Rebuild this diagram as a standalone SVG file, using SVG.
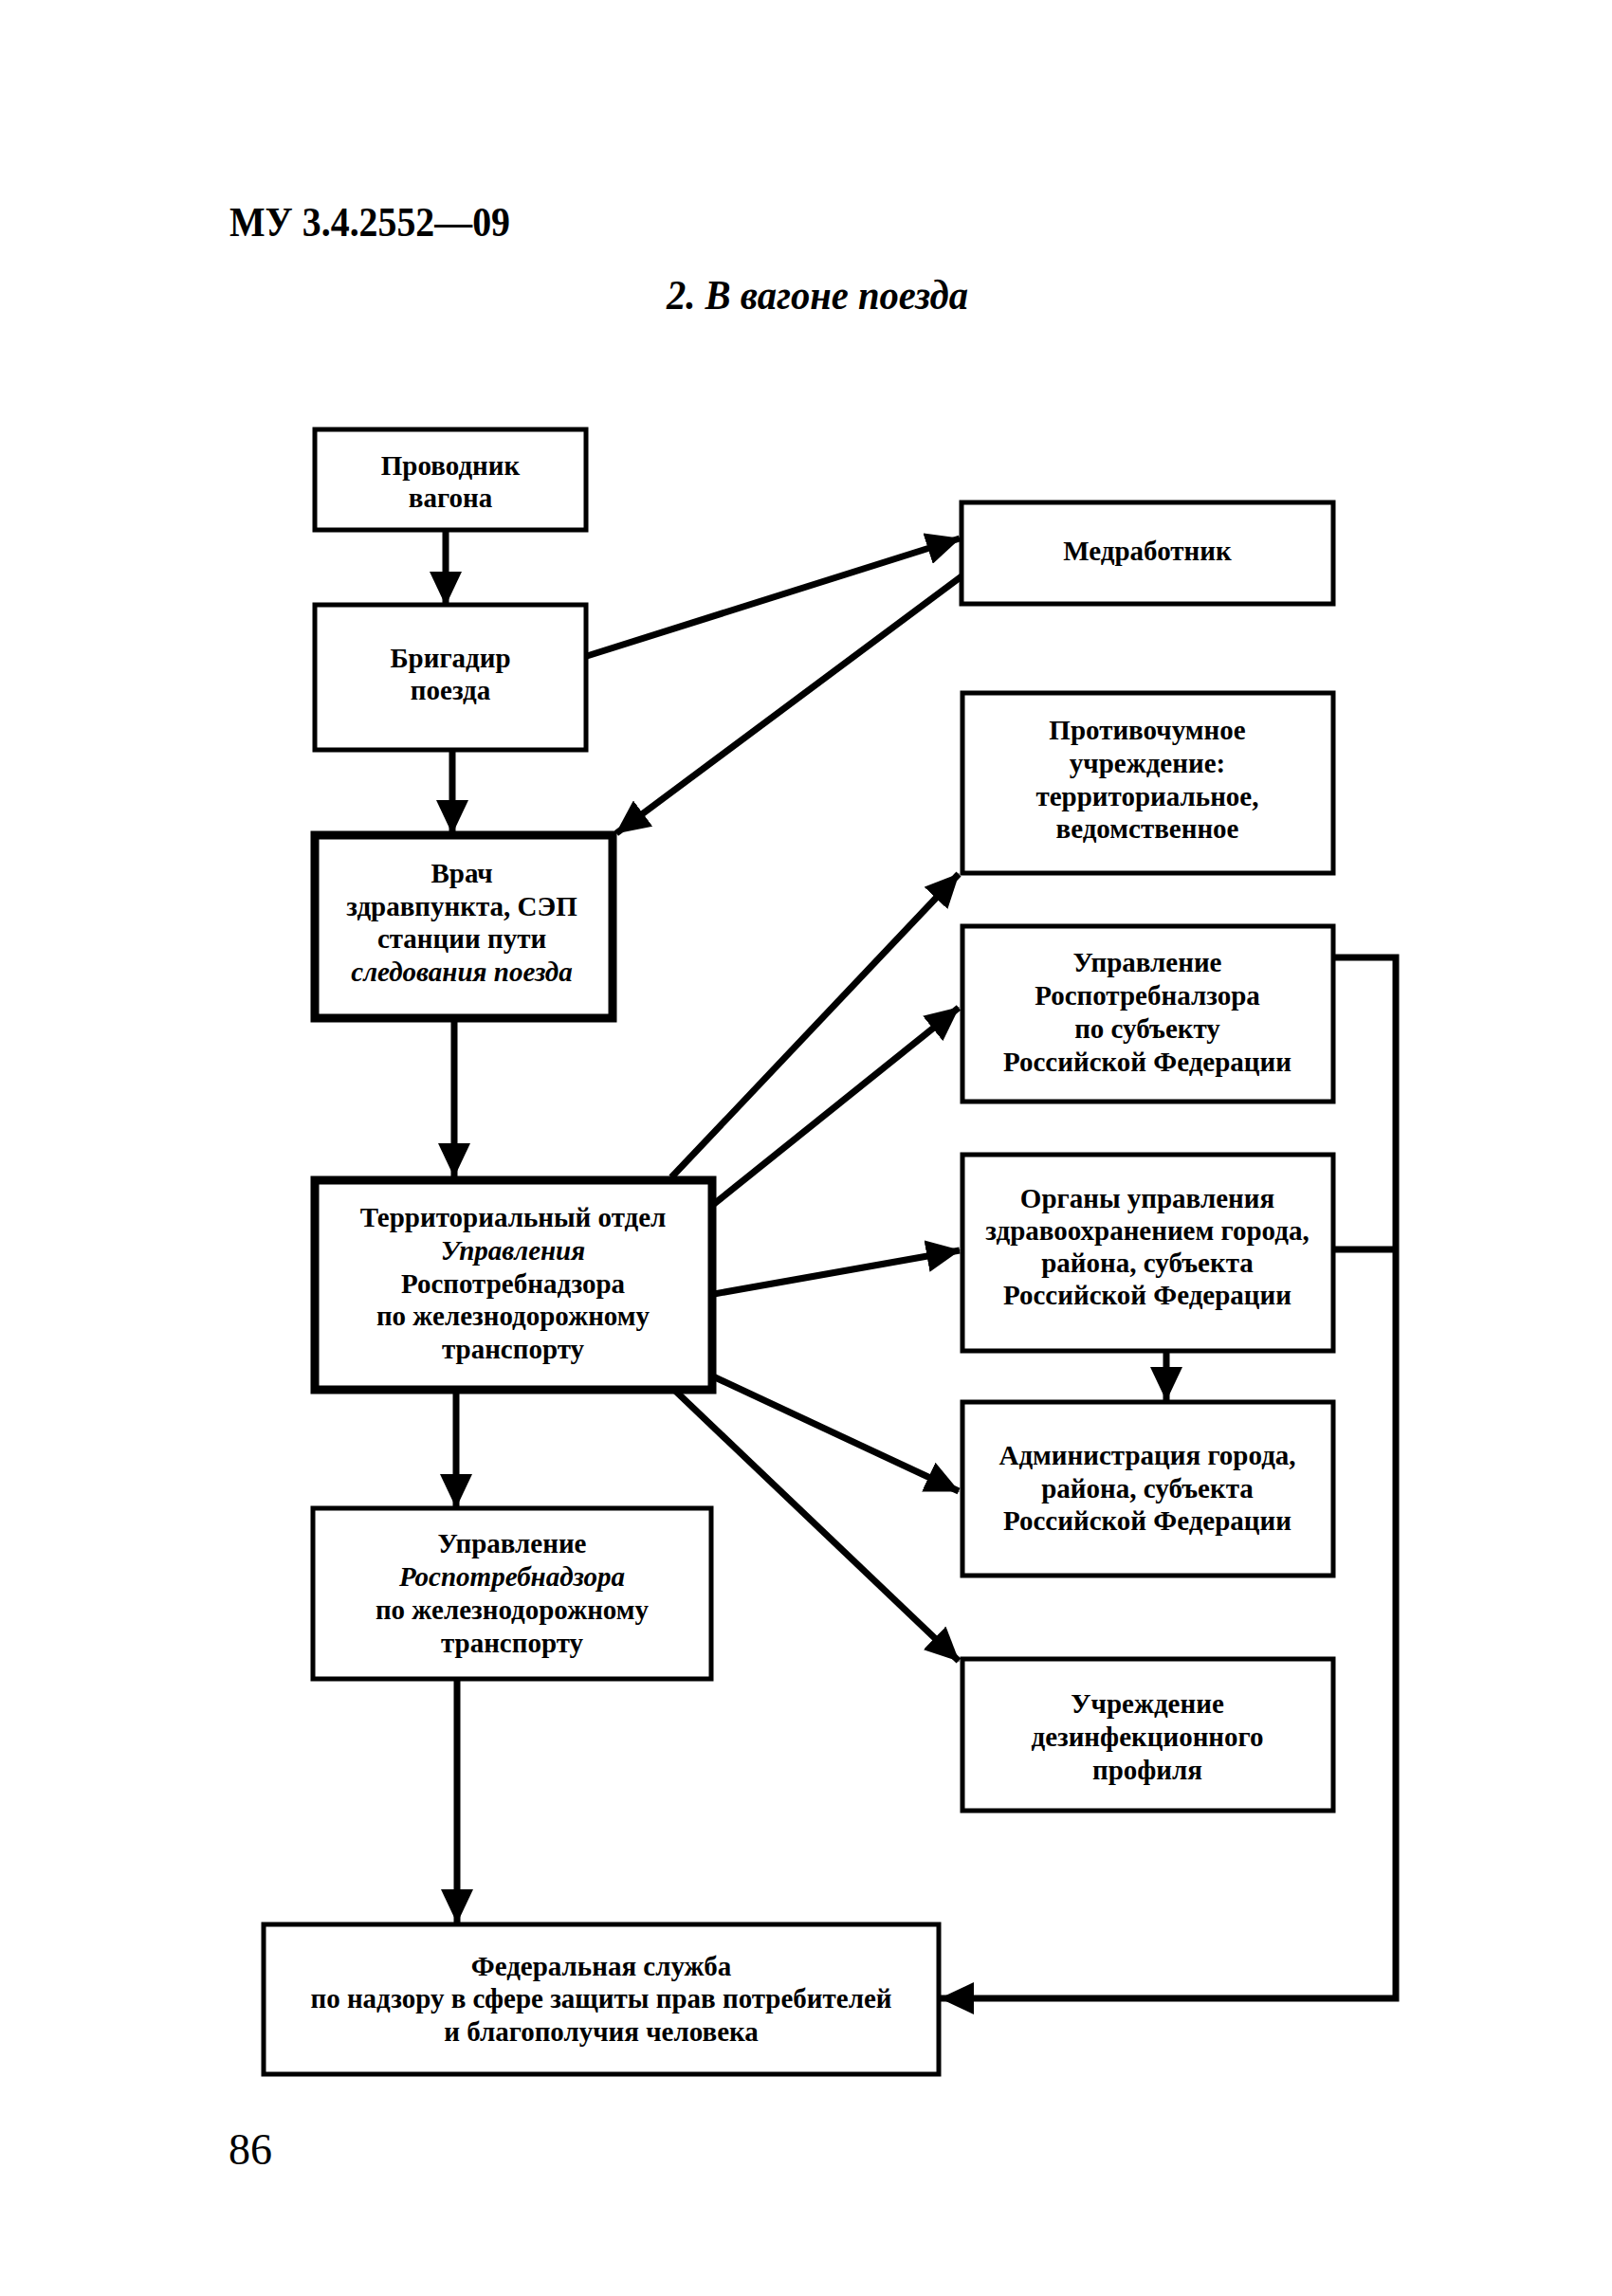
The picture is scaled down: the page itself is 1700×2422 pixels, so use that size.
<svg xmlns="http://www.w3.org/2000/svg" width="1700" height="2422" viewBox="0 0 1700 2422">
<style>
.box{fill:#fff;stroke:#000;stroke-width:5}
.thick{fill:#fff;stroke:#000;stroke-width:9}
.t{font-family:"Liberation Serif","Times New Roman",serif;font-size:29px;font-weight:bold;text-anchor:middle;fill:#000}
.i{font-style:italic}
.c{fill:none;stroke:#000;stroke-width:7;stroke-linecap:butt;stroke-linejoin:miter}
.hdr{font-family:"Liberation Serif","Times New Roman",serif;fill:#000}
</style>
<defs>
<marker id="ah" markerUnits="userSpaceOnUse" markerWidth="36" markerHeight="34" refX="35" refY="17" orient="auto" viewBox="0 0 36 34">
<path d="M0,0 L36,17 L0,34 z" fill="#000"/>
</marker>
</defs>
<rect width="1700" height="2422" fill="#fff"/>
<text class="hdr" x="242" y="249" font-size="44" font-weight="bold" textLength="296" lengthAdjust="spacingAndGlyphs">МУ 3.4.2552—09</text>
<text class="hdr" x="703" y="326" font-size="45" font-weight="bold" font-style="italic" textLength="318" lengthAdjust="spacingAndGlyphs">2. В вагоне поезда</text>
<text class="hdr" x="241" y="2283" font-size="46">86</text>

<g id="connectors">
<line class="c" x1="470" y1="560" x2="470" y2="638" marker-end="url(#ah)"/>
<line class="c" x1="619" y1="692" x2="1012" y2="568" marker-end="url(#ah)"/>
<line class="c" x1="1014" y1="608" x2="650" y2="879" marker-end="url(#ah)"/>
<line class="c" x1="477" y1="792" x2="477" y2="879" marker-end="url(#ah)"/>
<line class="c" x1="479" y1="1078" x2="479" y2="1241" marker-end="url(#ah)"/>
<line class="c" x1="708" y1="1242" x2="1011" y2="922" marker-end="url(#ah)"/>
<line class="c" x1="753" y1="1270" x2="1011" y2="1063" marker-end="url(#ah)"/>
<line class="c" x1="753" y1="1365" x2="1012" y2="1319" marker-end="url(#ah)"/>
<line class="c" x1="752" y1="1452" x2="1011" y2="1573" marker-end="url(#ah)"/>
<line class="c" x1="712" y1="1467" x2="1011" y2="1752" marker-end="url(#ah)"/>
<line class="c" x1="481" y1="1468" x2="481" y2="1590" marker-end="url(#ah)"/>
<line class="c" x1="1230" y1="1425" x2="1230" y2="1477" marker-end="url(#ah)"/>
<line class="c" x1="482" y1="1771" x2="482" y2="2028" marker-end="url(#ah)"/>
<polyline class="c" points="1407,1010 1472,1010 1472,2108 992,2108" marker-end="url(#ah)"/>
<line class="c" x1="1407" y1="1318" x2="1472" y2="1318"/>
</g>

<g id="n-provodnik">
<rect class="box" x="332" y="453" width="286" height="106"/>
<text class="t" x="475" y="501">Проводник</text>
<text class="t" x="475" y="535">вагона</text>
</g>
<g id="n-brigadir">
<rect class="box" x="332" y="638" width="286" height="153"/>
<text class="t" x="475" y="704">Бригадир</text>
<text class="t" x="475" y="738">поезда</text>
</g>
<g id="n-vrach">
<rect class="thick" x="332" y="881" width="314" height="193"/>
<text class="t" x="487" y="931">Врач</text>
<text class="t" x="487" y="966">здравпункта, СЭП</text>
<text class="t" x="487" y="1000">станции пути</text>
<text class="t i" x="487" y="1035">следования поезда</text>
</g>
<g id="n-medrabotnik">
<rect class="box" x="1014" y="530" width="392" height="107"/>
<text class="t" x="1210" y="591">Медработник</text>
</g>
<g id="n-protivochumnoe">
<rect class="box" x="1015" y="731" width="391" height="190"/>
<text class="t" x="1210" y="780">Противочумное</text>
<text class="t" x="1210" y="815">учреждение:</text>
<text class="t" x="1210" y="850">территориальное,</text>
<text class="t" x="1210" y="884">ведомственное</text>
</g>
<g id="n-upr-subekt">
<rect class="box" x="1015" y="977" width="391" height="185"/>
<text class="t" x="1210" y="1025">Управление</text>
<text class="t" x="1210" y="1060">Роспотребналзора</text>
<text class="t" x="1210" y="1095">по субъекту</text>
<text class="t" x="1210" y="1130">Российской Федерации</text>
</g>
<g id="n-organy">
<rect class="box" x="1015" y="1218" width="391" height="207"/>
<text class="t" x="1210" y="1274">Органы управления</text>
<text class="t" x="1210" y="1308">здравоохранением города,</text>
<text class="t" x="1210" y="1342">района, субъекта</text>
<text class="t" x="1210" y="1376">Российской Федерации</text>
</g>
<g id="n-admin">
<rect class="box" x="1015" y="1479" width="391" height="183"/>
<text class="t" x="1210" y="1545">Администрация города,</text>
<text class="t" x="1210" y="1580">района, субъекта</text>
<text class="t" x="1210" y="1614">Российской Федерации</text>
</g>
<g id="n-dezinf">
<rect class="box" x="1015" y="1750" width="391" height="160"/>
<text class="t" x="1210" y="1807">Учреждение</text>
<text class="t" x="1210" y="1842">дезинфекционного</text>
<text class="t" x="1210" y="1877">профиля</text>
</g>
<g id="n-terr">
<rect class="thick" x="332" y="1245" width="419" height="221"/>
<text class="t" x="541" y="1294">Территориальный отдел</text>
<text class="t i" x="541" y="1329">Управления</text>
<text class="t" x="541" y="1364">Роспотребнадзора</text>
<text class="t" x="541" y="1398">по железнодорожному</text>
<text class="t" x="541" y="1433">транспорту</text>
</g>
<g id="n-upr-zhd">
<rect class="box" x="330" y="1591" width="420" height="180"/>
<text class="t" x="540" y="1638">Управление</text>
<text class="t i" x="540" y="1673">Роспотребнадзора</text>
<text class="t" x="540" y="1708">по железнодорожному</text>
<text class="t" x="540" y="1743">транспорту</text>
</g>
<g id="n-federal">
<rect class="box" x="278" y="2030" width="712" height="158"/>
<text class="t" x="634" y="2084">Федеральная служба</text>
<text class="t" x="634" y="2118">по надзору в сфере защиты прав потребителей</text>
<text class="t" x="634" y="2153">и благополучия человека</text>
</g>
</svg>
